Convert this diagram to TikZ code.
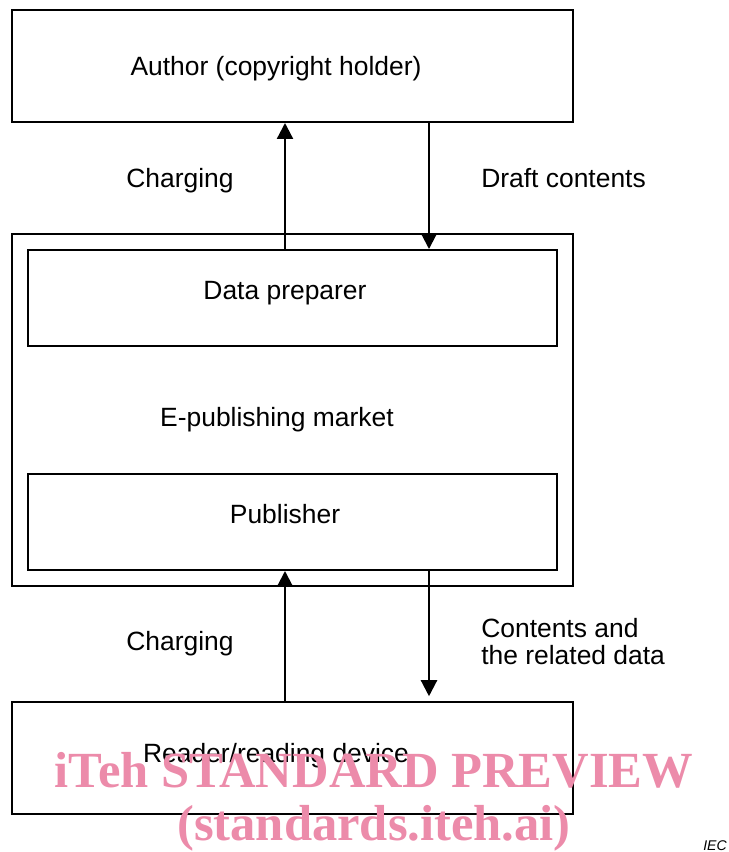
\documentclass[tikz,border=0pt]{standalone}
\usepackage{fontspec}
\setmainfont{Liberation Sans}
\newfontfamily\wmfont{Liberation Serif}
\usepackage{xcolor}
\usetikzlibrary{arrows.meta,positioning,calc}

\definecolor{wmpink}{RGB}{236,139,170}

\begin{document}
\begin{tikzpicture}[font=\fontsize{18.8}{22}\selectfont]
    % Define styles
    \tikzstyle{block} = [rectangle, draw=black, line width=1.4pt, minimum width=14.025cm, minimum height=2.8cm, inner sep=0pt]
    \tikzstyle{inner} = [rectangle, draw=black, line width=1.4pt, minimum width=13.225cm, minimum height=2.4cm, inner sep=0pt]
    \tikzstyle{market} = [rectangle, draw=black, line width=1.4pt, minimum width=14.025cm, minimum height=8.8cm, inner sep=0pt]
    \tikzstyle{note} = [inner sep=0pt]
    \tikzstyle{arrow} = [line width=1.6pt, -{Triangle[length=4mm,width=4mm]}]
    \tikzstyle{watermark} = [inner sep=0pt, text=wmpink, font=\wmfont\bfseries\fontsize{36}{40}\selectfont]

    \useasboundingbox (0,0) rectangle (18.225,-21.3);

    % Nodes
    \node (author) [block] at (7.3125,-1.65) {};
    \node (market) [market] at (7.3125,-10.25) {};
    \node (prep) [inner] at (7.3125,-7.45) {};
    \node (pub) [inner] at (7.3125,-13.05) {};
    \node (reader) [block] at (7.3125,-18.95) {};

    \node (authorT) [note] at (6.9,-1.72) {Author (copyright holder)};
    \node (prepT) [note] at (7.125,-7.32) {Data preparer};
    \node (marketT) [note] at (6.925,-10.5) {E-publishing market};
    \node (pubT) [note] at (7.125,-12.86) {Publisher};
    \node (readerT) [note] at (6.9,-18.9) {Reader/reading device};

    \node (charge1) [note] at (4.5,-4.52) {Charging};
    \node (draft) [note, anchor=west] at (12.025,-4.46) {Draft contents};
    \node (charge2) [note] at (4.5,-16.08) {Charging};
    \node (contents) [note, anchor=west, align=left, font=\fontsize{18.8}{19.2}\selectfont] at (12.025,-16.03) {Contents and\\the related data};

    \node (iec) [note, anchor=west, font=\itshape\fontsize{10}{12}\selectfont] at (17.575,-21.15) {IEC};

    \node (wm1) [watermark] at (9.35,-19.25) {iTeh STANDARD PREVIEW};
    \node (wm2) [watermark] at (9.35,-20.72) {(standards.iteh.ai)};

    % Arrows
    \coordinate (upx) at (7.125,0);
    \coordinate (dnx) at (10.725,0);
    \draw [arrow] (upx |- prep.north) -- (upx |- author.south);
    \draw [arrow] (dnx |- author.south) -- (dnx |- prep.north);
    \draw [arrow] (upx |- reader.north) -- (upx |- pub.south);
    \draw [arrow, shorten >=1.2mm] (dnx |- pub.south) -- (dnx |- reader.north);
\end{tikzpicture}
\end{document}
